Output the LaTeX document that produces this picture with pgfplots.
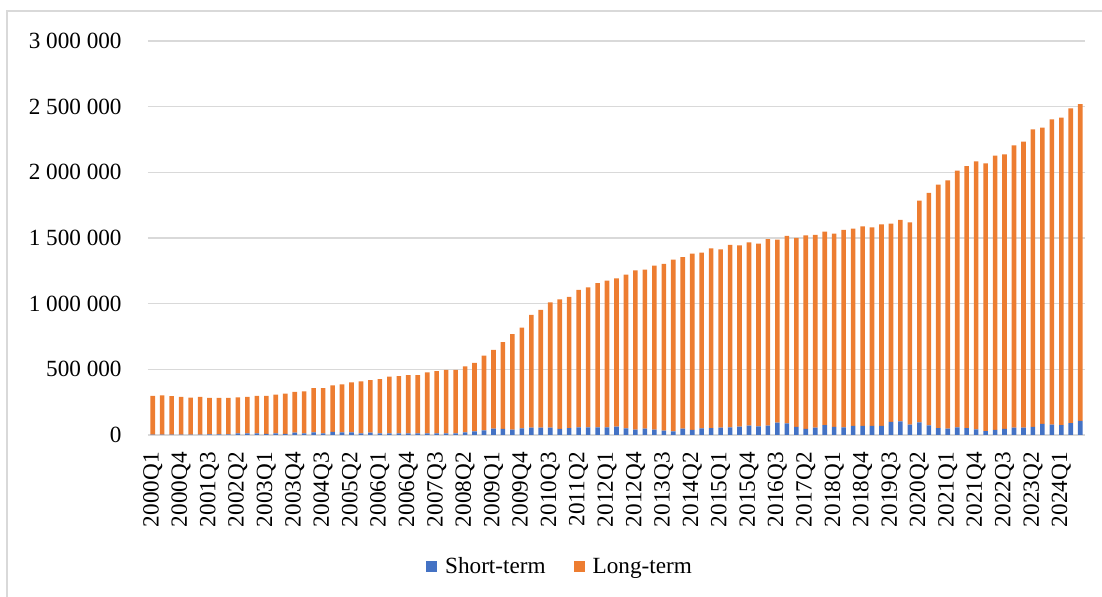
\documentclass[border=0pt]{standalone}
\usepackage{fontspec}
\setmainfont{Liberation Serif}
\usepackage{pgfplots}
\usepackage{pgfplotstable}
\pgfplotsset{compat=1.18}

\definecolor{stblue}{HTML}{4472C4}
\definecolor{ltorange}{HTML}{ED7D31}
\definecolor{gridgray}{HTML}{D9D9D9}
\newcommand\chartfont{\fontsize{11.6}{13}\selectfont}

% quarter index (0 = 2000Q1), short-term, long-term
\pgfplotstableread{
i short long
0 3000 294000
1 3000 299000
2 3000 292000
3 3000 287000
4 3000 282000
5 3000 287000
6 4000 278000
7 4000 278000
8 5000 277000
9 13000 274000
10 13000 277000
11 13000 284000
12 8000 289000
13 13000 295000
14 8000 307000
15 18000 310000
16 13000 320000
17 20000 336000
18 13000 343000
19 23000 354000
20 20000 365000
21 20000 380000
22 13000 395000
23 18000 400000
24 13000 413000
25 13000 431000
26 13000 436000
27 13000 443000
28 13000 443000
29 13000 464000
30 13000 474000
31 13000 482000
32 13000 482000
33 20000 503000
34 28000 521000
35 36000 569000
36 48000 600000
37 46000 662000
38 41000 727000
39 51000 767000
40 56000 858000
41 56000 896000
42 56000 954000
43 46000 987000
44 53000 998000
45 58000 1046000
46 58000 1066000
47 58000 1099000
48 58000 1117000
49 63000 1130000
50 51000 1170000
51 41000 1213000
52 48000 1211000
53 41000 1248000
54 33000 1269000
55 28000 1307000
56 48000 1307000
57 38000 1343000
58 51000 1337000
59 53000 1368000
60 56000 1358000
61 58000 1389000
62 63000 1381000
63 71000 1396000
64 66000 1391000
65 71000 1421000
66 94000 1393000
67 89000 1427000
68 61000 1440000
69 46000 1474000
70 56000 1467000
71 76000 1472000
72 61000 1472000
73 58000 1503000
74 69000 1502000
75 69000 1520000
76 69000 1512000
77 69000 1535000
78 99000 1510000
79 104000 1533000
80 79000 1540000
81 96000 1688000
82 74000 1769000
83 53000 1853000
84 48000 1891000
85 58000 1955000
86 53000 1995000
87 43000 2041000
88 30000 2038000
89 38000 2089000
90 46000 2091000
91 56000 2150000
92 56000 2177000
93 61000 2266000
94 84000 2256000
95 79000 2324000
96 76000 2340000
97 91000 2396000
98 107000 2413000
}\debttable

\begin{document}
\begin{tikzpicture}[x=1pt,y=1pt]
\useasboundingbox (0,0) rectangle (551,298.5);
\draw[gridgray, line width=0.75pt] (3.5,0) -- (3.5,293) -- (551,293);
\begin{axis}[
  at={(74pt,81pt)}, anchor=south west,
  scale only axis,
  width=468.5pt, height=197pt,
  ybar stacked,
  bar width=2.3pt,
  xmin=-0.5, xmax=98.5,
  ymin=0, ymax=3000000,
  enlargelimits=false,
  axis line style={draw=none},
  tick style={draw=none},
  major tick length=0pt,
  ymajorgrids,
  grid style={gridgray, line width=0.75pt},
  scaled y ticks=false,
  ytick={0,500000,1000000,1500000,2000000,2500000,3000000},
  yticklabels={0,500 000,1 000 000,1 500 000,2 000 000,2 500 000,3 000 000},
  yticklabel style={font=\chartfont, anchor=east, inner sep=0pt},
  yticklabel shift=13pt,
  xtick={0,3,...,96},
  xticklabels={2000Q1,2000Q4,2001Q3,2002Q2,2003Q1,2003Q4,2004Q3,2005Q2,
    2006Q1,2006Q4,2007Q3,2008Q2,2009Q1,2009Q4,2010Q3,2011Q2,2012Q1,
    2012Q4,2013Q3,2014Q2,2015Q1,2015Q4,2016Q3,2017Q2,2018Q1,2018Q4,
    2019Q3,2020Q2,2021Q1,2021Q4,2022Q3,2023Q2,2024Q1},
  xticklabel style={font=\chartfont, rotate=90, anchor=east, inner sep=0pt},
  xticklabel shift=8.5pt,
  legend style={
    at={(axis description cs:0.4408,-0.335)},
    anchor=center,
    draw=none, fill=none,
    legend columns=2,
    font=\chartfont,
    /tikz/every even column/.append style={column sep=12pt},
  },
]
\addplot[fill=stblue, draw=none,
  legend image code/.code={\fill[stblue] (0pt,-2.75pt) rectangle (5.5pt,2.75pt);
    \path (7.5pt,0pt);}]
  table[x=i, y=short] {\debttable};
\addplot[fill=ltorange, draw=none,
  legend image code/.code={\fill[ltorange] (0pt,-2.75pt) rectangle (5.5pt,2.75pt);
    \path (7.5pt,0pt);}]
  table[x=i, y=long] {\debttable};
\legend{Short-term, Long-term}
\end{axis}
\end{tikzpicture}
\end{document}
